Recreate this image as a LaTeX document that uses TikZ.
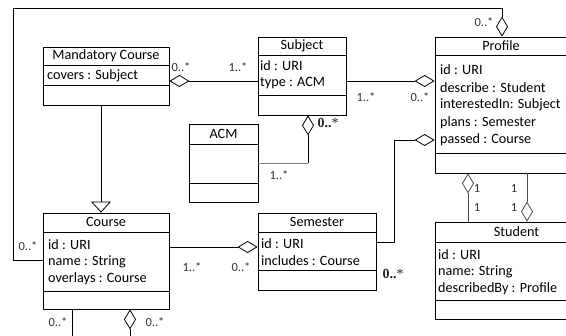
\documentclass[tikz,border=0pt]{standalone}
\usepackage{fontspec}
\setmainfont{Carlito}
\newfontfamily\multserif{Liberation Serif}
\usetikzlibrary{arrows.meta,fit}

\definecolor{linkblue}{RGB}{84,134,184}

\begin{document}
\begin{tikzpicture}[x=1pt,y=-1pt,
  box/.style={draw, line width=0.8pt, inner sep=0pt},
  rule/.style={line width=0.8pt},
  ttl/.style={font=\fontsize{14.2}{16}\selectfont, inner sep=0pt},
  attr/.style={font=\fontsize{14.2}{16}\selectfont, inner sep=0pt, anchor=west},
  mult/.style={font=\fontsize{12.5}{14}\selectfont, inner sep=0pt, text=black!80},
  bmult/.style={font=\multserif\fontsize{14}{16}\selectfont, inner sep=0pt, text=black!85},
  link/.style={line width=0.8pt},
  agg/.style={link, {Diamond[fill=white, length=20pt, width=12pt]}-},
  gen/.style={link, -{Triangle[open, fill=white, length=11pt, width=20pt]}},
]
\useasboundingbox (0,0) rectangle (566,336);
\fill[white] (0,0) rectangle (566,336);

% ---------- classes ----------
% Mandatory Course
\node[box, fit={(43,47) (169,105)}] (mc) {};
\draw[rule] (mc.west |- 0,65) -- (mc.east |- 0,65);
\draw[rule] (mc.west |- 0,85) -- (mc.east |- 0,85);
\node[ttl] (mc-t) at (106,56) {Mandatory Course};
\node[attr] (mc-a1) at (47,76) {covers : Subject};

% Subject
\node[box, fit={(258,37) (346,115)}] (subj) {};
\draw[rule] (subj.west |- 0,55) -- (subj.east |- 0,55);
\draw[rule] (subj.west |- 0,95) -- (subj.east |- 0,95);
\node[ttl] (subj-t) at (302,46) {Subject};
\node[attr] (subj-a1) at (260,66) {id : URI};
\node[attr] (subj-a2) at (260,83) {type : ACM};

% ACM
\node[box, fit={(189,124) (258,202)}] (acm) {};
\draw[rule] (acm.west |- 0,144) -- (acm.east |- 0,144);
\draw[rule] (acm.west |- 0,183) -- (acm.east |- 0,183);
\node[ttl] (acm-t) at (223.5,134) {ACM};

% Profile
\node[box, fit={(435,37) (568,173)}] (prof) {};
\draw[rule] (prof.west |- 0,55) -- (prof.east |- 0,55);
\draw[rule] (prof.west |- 0,153) -- (prof.east |- 0,153);
\node[ttl] (prof-t) at (501,46) {Profile};
\node[attr] (prof-a1) at (440,70) {id : URI};
\node[attr] (prof-a2) at (440,87.5) {describe : Student};
\node[attr] (prof-a3) at (440,105) {interestedIn: Subject};
\node[attr] (prof-a4) at (440,122.5) {plans : Semester};
\node[attr] (prof-a5) at (440,140) {passed : Course};

% Course
\node[box, fit={(43,213) (169,309)}] (course) {};
\draw[rule] (course.west |- 0,232) -- (course.east |- 0,232);
\draw[rule] (course.west |- 0,291) -- (course.east |- 0,291);
\node[ttl] (course-t) at (106,222) {Course};
\node[attr] (course-a1) at (48,245) {id : URI};
\node[attr] (course-a2) at (48,262) {name : String};
\node[attr] (course-a3) at (48,279) {overlays : Course};

% Semester
\node[box, fit={(258,213) (376,290)}] (sem) {};
\draw[rule] (sem.west |- 0,232) -- (sem.east |- 0,232);
\draw[rule] (sem.west |- 0,270) -- (sem.east |- 0,270);
\node[ttl] (sem-t) at (317,222) {Semester};
\node[attr] (sem-a1) at (261,244) {id : URI};
\node[attr] (sem-a2) at (261,261) {includes : Course};

% Student
\node[box, fit={(435,222) (598,319)}] (stud) {};
\draw[rule] (stud.west |- 0,242) -- (stud.east |- 0,242);
\draw[rule] (stud.west |- 0,300) -- (stud.east |- 0,300);
\node[ttl] (stud-t) at (516.5,232) {Student};
\node[attr] (stud-a1) at (438,255) {id : URI};
\node[attr] (stud-a2) at (438,272) {name: String};
\node[attr] (stud-a3) at (438,289) {describedBy : Profile};

% ---------- bend points and free ends ----------
\coordinate (acmbend) at (308,163);
\coordinate (sembend) at (394,242);
\coordinate (loopA) at (502,8);
\coordinate (loopB) at (13,260);
\coordinate (cbotL) at (72,338);
\coordinate (cbotR) at (130,338);

% ---------- connectors ----------
\draw[agg] (mc.east |- 0,81) -- (subj.west |- 0,81);
\draw[agg] (prof.west |- 0,81) -- (subj.east |- 0,81);
\draw[agg] (subj.south -| acmbend) -- (acmbend);
\draw[link, linkblue] (acmbend) -- (acm.east |- acmbend);
\draw[agg] (sem.west |- 0,247) -- (course.east |- 0,247);
\draw[agg] (prof.west |- 0,140) -| (sembend) -- (sem.east |- sembend);
\draw[agg] (prof.north -| loopA) -- (loopA) -| (loopB) -- (course.west |- loopB);
\draw[gen] (mc.south -| 101,0) -- (course.north -| 101,0);
\draw[agg, black!70] (prof.south -| 468,0) -- (stud.north -| 468,0);
\draw[agg, black!70] (stud.north -| 527,0) -- (prof.south -| 527,0);
\draw[link] (course.south -| cbotL) -- (cbotL);
\draw[agg] (course.south -| cbotR) -- (cbotR);

% ---------- multiplicities ----------
\node[mult] (m1) at (181,67) {0..*};
\node[mult] (m2) at (238,67) {1..*};
\node[mult] (m3) at (366,97) {1..*};
\node[mult] (m4) at (420,97) {0..*};
\node[bmult] (m5) at (328,123) {\textbf{0..}*};
\node[mult] (m6) at (279,175) {1..*};
\node[mult] (m7) at (484,22) {0..*};
\node[mult] (m8) at (477,188) {1};
\node[mult] (m9) at (477,207) {1};
\node[mult] (m10) at (514,188) {1};
\node[mult] (m11) at (514,207) {1};
\node[mult] (m12) at (192,267) {1..*};
\node[mult] (m13) at (241,267) {0..*};
\node[bmult] (m14) at (393,274) {\textbf{0..}*};
\node[mult] (m15) at (28,246) {0..*};
\node[mult] (m16) at (58,322) {0..*};
\node[mult] (m17) at (155,322) {0..*};
\end{tikzpicture}
\end{document}
